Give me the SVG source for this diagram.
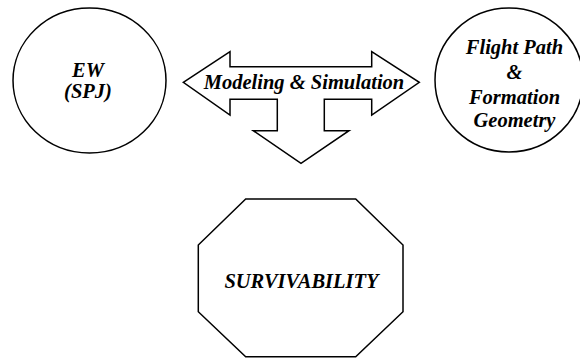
<svg xmlns="http://www.w3.org/2000/svg" width="580" height="359" viewBox="0 0 580 359">
<style>
.shape{fill:#fff;stroke:#000;stroke-width:1.5}
text{font-family:'Liberation Serif','Times New Roman','DejaVu Serif',serif;font-weight:700;font-style:italic;font-size:20.5px;fill:#000;text-anchor:middle}
</style>
<rect width="580" height="359" fill="#fff"/>
<g id="ew">
<ellipse class="shape" cx="89.5" cy="80.5" rx="76.5" ry="72.5"/>
<text x="88" y="77">EW</text>
<text x="88" y="98">(SPJ)</text>
</g>
<g id="flightpath">
<ellipse class="shape" cx="509" cy="80" rx="74" ry="72"/>
<text x="514.5" y="53.5">Flight Path</text>
<text x="514.5" y="79">&amp;</text>
<text x="514.5" y="103.5">Formation</text>
<text x="514.5" y="127">Geometry</text>
</g>
<g id="connectors">
<g id="modeling">
<path class="shape" d="M183.3,82.3 L230,51.7 L230,66.7 L371.7,66.7 L371.7,51.7 L419.3,82.3 L371.7,115 L371.7,99.3 L324.3,99.3 L324.3,130.7 L349,130.7 L301,163.3 L253.3,130.7 L277.3,130.7 L277.3,99.3 L230,99.3 L230,115 Z"/>
<text x="304" y="88.5">Modeling &amp; Simulation</text>
</g>
</g>
<g id="survivability">
<polygon class="shape" points="245.7,199 355.7,199 403,245 403,311.7 355.7,356.7 245.7,356.7 198.3,311.7 198.3,245"/>
<text x="301.5" y="287.5">SURVIVABILITY</text>
</g>
</svg>
